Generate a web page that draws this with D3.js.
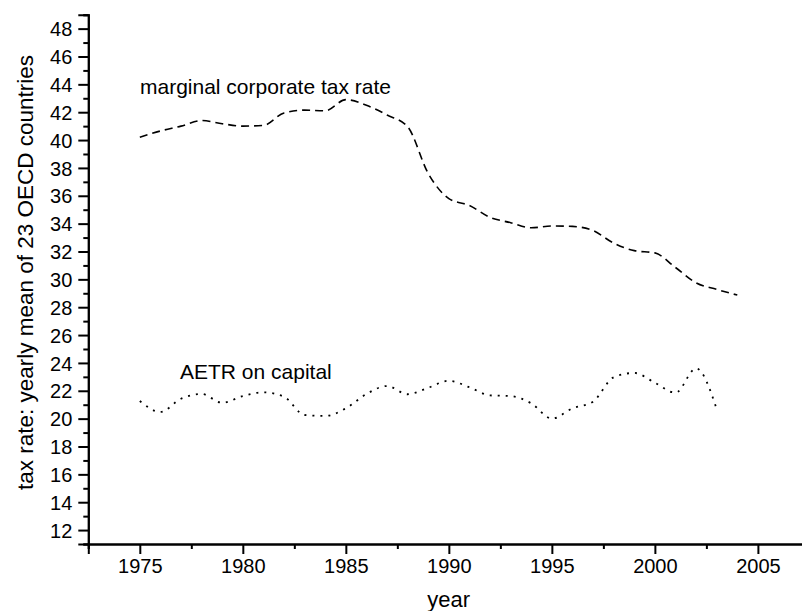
<!DOCTYPE html>
<html>
<head>
<meta charset="utf-8">
<script src="https://cdn.jsdelivr.net/npm/d3@7"></script>
<style>
  html, body { margin: 0; padding: 0; background: #fff; }
  svg text { font-family: "Liberation Sans", Arial, sans-serif; fill: #000; }
</style>
</head>
<body>
<svg id="chart" width="802" height="611"></svg>
<script>
// Yearly means of 23 OECD countries
const years = d3.range(1975, 2005);
const marginalRate = [
  40.2, 40.65, 41.0, 41.4, 41.17, 41.0, 41.05, 41.95, 42.15, 42.1,
  42.9, 42.5, 41.8, 40.96, 37.6, 35.8, 35.3, 34.45, 34.07, 33.7,
  33.83, 33.8, 33.5, 32.6, 32.06, 31.9, 30.85, 29.75, 29.28, 28.87
];
const aetrYears = d3.range(1975, 2004);
const aetrCapital = [
  21.27, 20.48, 21.43, 21.77, 21.14, 21.62, 21.89, 21.57, 20.26, 20.19,
  20.74, 21.77, 22.34, 21.75, 22.22, 22.72, 22.25, 21.67, 21.62, 21.1,
  20.0, 20.74, 21.22, 22.97, 23.28, 22.58, 21.86, 23.61, 20.69
];
const yMajorTicks = d3.range(12, 49, 2);
const yMinorTicks = d3.range(11, 50, 2);
const xMajorTicks = [1975, 1980, 1985, 1990, 1995, 2000, 2005];
const xMinorTicks = [1972.5, 1977.5, 1982.5, 1987.5, 1992.5, 1997.5, 2002.5, 2007.5];

const svg = d3.select("#chart");

const x = d3.scaleLinear().domain([1972.5, 2007.5]).range([88.3, 809.4]);
const y = d3.scaleLinear().domain([11, 49]).range([544, 14.7]);

// Axes
const xAxis = d3.axisBottom(x).tickValues(xMajorTicks).tickFormat(d3.format("d"))
  .tickSize(10).tickPadding(5);
const xAxisMinor = d3.axisBottom(x).tickValues(xMinorTicks).tickFormat("").tickSize(5);
const yAxis = d3.axisLeft(y).tickValues(yMajorTicks).tickFormat(d3.format("d"))
  .tickSize(10).tickPadding(6);
const yAxisMinor = d3.axisLeft(y).tickValues(yMinorTicks).tickFormat("").tickSize(5);

function styleAxis(g) {
  g.selectAll(".domain").attr("stroke", "#000").attr("stroke-width", 2);
  g.selectAll(".tick line").attr("stroke", "#000").attr("stroke-width", 2);
  g.selectAll(".tick text").attr("font-size", 20)
    .attr("font-family", "Liberation Sans, Arial, sans-serif").attr("fill", "#000");
}

svg.append("g").attr("transform", `translate(0,${y(11)})`).call(xAxisMinor).call(styleAxis);
svg.append("g").attr("transform", `translate(0,${y(11)})`).call(xAxis).call(styleAxis);
svg.append("g").attr("transform", `translate(${x(1972.5)},0)`).call(yAxisMinor).call(styleAxis);
svg.append("g").attr("transform", `translate(${x(1972.5)},0)`).call(yAxis).call(styleAxis)
  .selectAll(".tick text").attr("dy", "0.36em");

// Axis titles
svg.append("text")
  .attr("x", 448.7).attr("y", 607)
  .attr("text-anchor", "middle").attr("font-size", 22)
  .text("year");

svg.append("text")
  .attr("transform", `translate(33,272.5) rotate(-90)`)
  .attr("text-anchor", "middle").attr("font-size", 22.5)
  .text("tax rate: yearly mean of 23 OECD countries");

// Series
const line = d3.line()
  .x(d => x(d[0]))
  .y(d => y(d[1]))
  .curve(d3.curveMonotoneX);

svg.append("path")
  .datum(years.map((yr, i) => [yr, marginalRate[i]]))
  .attr("d", line)
  .attr("fill", "none").attr("stroke", "#000")
  .attr("stroke-width", 1.6).attr("stroke-dasharray", "8,5");

svg.append("path")
  .datum(aetrYears.map((yr, i) => [yr, aetrCapital[i]]))
  .attr("d", line)
  .attr("fill", "none").attr("stroke", "#000")
  .attr("stroke-width", 1.8).attr("stroke-dasharray", "2,6");

// Series labels
svg.append("text")
  .attr("x", 140).attr("y", 94.3).attr("font-size", 21)
  .text("marginal corporate tax rate");

svg.append("text")
  .attr("x", 180).attr("y", 379.3).attr("font-size", 21)
  .text("AETR on capital");
</script>
</body>
</html>
